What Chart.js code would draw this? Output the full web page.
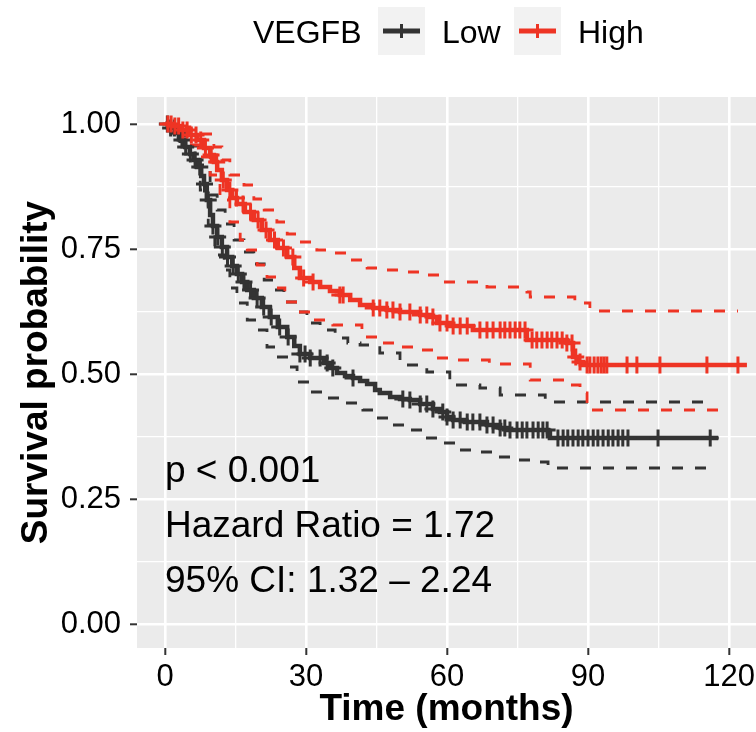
<!DOCTYPE html>
<html>
<head>
<meta charset="utf-8">
<script src="https://cdn.jsdelivr.net/npm/chart.js@4.4.1/dist/chart.umd.min.js"></script>
<style>
  html, body { margin: 0; padding: 0; background: #ffffff; overflow: hidden; }
  #km { display: block; }
</style>
</head>
<body>
<canvas id="km" width="756" height="732"></canvas>
<script>
// groups
const groupNames = ["Low", "High"];
const groupColors = ["#333333", "#EE3424"];

// Kaplan-Meier estimate, Low group (months, survival)
const lowTime = [0, 1.1, 2.1, 3.2, 4.3, 5.3, 6.2, 6.8, 7.7, 8.3, 8.9, 9.6, 10.2, 11.1, 12.1, 13.2, 14.3, 15.3, 16.4, 17.5, 18.9, 20.6, 22.3, 24.0, 26.0, 27.5, 28.7, 30.9, 33.8, 35.1, 36.6, 38.3, 40.0, 41.5, 43.0, 44.7, 45.7, 47.9, 50.0, 52.1, 54.3, 57.0, 58.5, 60.0, 61.3, 63.8, 68.5, 71.3, 72.8, 81.5, 81.9, 117.7];
const lowSurv = [1, 0.992, 0.982, 0.968, 0.954, 0.94, 0.928, 0.914, 0.896, 0.88, 0.848, 0.818, 0.796, 0.774, 0.754, 0.734, 0.716, 0.70, 0.684, 0.668, 0.652, 0.634, 0.614, 0.594, 0.574, 0.556, 0.54, 0.532, 0.522, 0.512, 0.502, 0.496, 0.492, 0.486, 0.48, 0.468, 0.462, 0.454, 0.45, 0.448, 0.44, 0.43, 0.424, 0.414, 0.408, 0.404, 0.398, 0.392, 0.388, 0.384, 0.372, 0.372];
const lowCensor = [0.5, 1.2, 2.0, 2.8, 3.6, 4.4, 5.4, 6.4, 7.4, 8.4, 9.2, 10.2, 11.2, 12.2, 13.3, 14.5, 15.6, 16.8, 18.2, 19.6, 21.0, 22.6, 24.4, 26.2, 28.7, 29.8, 30.9, 33.0, 34.5, 35.7, 40.0, 50.6, 52.1, 54.3, 55.7, 57.0, 59.1, 60.0, 61.3, 62.8, 64.3, 65.5, 67.0, 68.5, 69.8, 71.3, 72.3, 73.4, 74.9, 76.0, 77.0, 78.3, 79.4, 80.4, 81.3, 83.6, 84.7, 85.7, 86.8, 87.9, 88.9, 90.0, 91.1, 92.1, 93.2, 94.3, 95.3, 96.4, 97.4, 98.5, 104.9, 116.0];
const lowUpperTime = [0, 3.2, 5.3, 7.5, 9.6, 11.1, 12.8, 14.7, 16.8, 18.9, 21.1, 23.2, 25.3, 28.1, 30.2, 33.0, 36.2, 38.9, 41.5, 45.7, 50.0, 55.7, 60.6, 67.0, 71.3, 80.9, 116.0];
const lowUpper = [1, 0.976, 0.956, 0.918, 0.858, 0.828, 0.80, 0.768, 0.744, 0.72, 0.688, 0.668, 0.644, 0.624, 0.602, 0.588, 0.572, 0.562, 0.558, 0.542, 0.518, 0.504, 0.478, 0.472, 0.458, 0.444, 0.444];
const lowLowerTime = [0, 3.2, 5.3, 7.5, 9.2, 10.6, 12.6, 13.8, 15.3, 17.5, 19.6, 21.7, 23.8, 26.4, 28.1, 30.9, 34.5, 37.9, 42.1, 45.1, 47.9, 52.1, 54.9, 59.2, 62.1, 67.0, 70.6, 74.0, 77.7, 81.5, 116.0];
const lowLower = [1, 0.958, 0.924, 0.868, 0.798, 0.738, 0.708, 0.672, 0.642, 0.608, 0.588, 0.554, 0.534, 0.514, 0.484, 0.464, 0.452, 0.442, 0.428, 0.412, 0.398, 0.388, 0.372, 0.362, 0.348, 0.344, 0.334, 0.328, 0.324, 0.312, 0.312];

// Kaplan-Meier estimate, High group
const highTime = [0, 1.5, 3.2, 4.9, 6.8, 8.3, 9.6, 10.4, 11.1, 12.1, 13.2, 14.3, 15.3, 17.0, 18.9, 20.6, 22.3, 24.0, 26.0, 27.5, 28.7, 30.9, 33.0, 35.1, 37.2, 39.4, 41.5, 44.3, 47.2, 50.0, 54.3, 56.4, 57.9, 60.6, 65.5, 77.0, 85.5, 86.8, 87.9, 88.9, 123.8];
const highSurv = [1, 0.996, 0.988, 0.978, 0.968, 0.952, 0.938, 0.924, 0.908, 0.888, 0.868, 0.852, 0.84, 0.824, 0.808, 0.788, 0.768, 0.752, 0.734, 0.712, 0.692, 0.684, 0.674, 0.666, 0.658, 0.648, 0.638, 0.632, 0.628, 0.624, 0.618, 0.614, 0.602, 0.596, 0.588, 0.568, 0.562, 0.534, 0.524, 0.518, 0.518];
const highCensor = [0.6, 1.3, 2.1, 2.9, 3.8, 4.7, 5.6, 6.6, 7.6, 8.6, 9.8, 11.0, 12.4, 13.8, 15.2, 16.6, 18.2, 19.8, 21.5, 23.3, 25.2, 27.2, 29.5, 31.5, 37.2, 37.9, 44.3, 45.7, 47.2, 48.5, 50.0, 52.1, 54.3, 55.7, 57.0, 58.5, 60.0, 61.3, 62.8, 64.3, 67.0, 68.5, 69.8, 71.3, 72.3, 73.4, 74.5, 75.5, 76.6, 78.1, 79.1, 80.2, 81.3, 82.3, 83.4, 84.5, 85.5, 86.6, 87.4, 88.3, 89.8, 90.4, 91.3, 92.1, 92.8, 93.4, 94.0, 98.3, 100.4, 105.3, 115.3, 121.9];
const highUpperTime = [0, 3.2, 5.3, 7.9, 10.4, 12.1, 13.8, 16.8, 18.9, 21.1, 23.8, 26.0, 28.7, 32.3, 35.7, 39.4, 43.0, 47.2, 51.5, 55.7, 58.5, 68.5, 77.0, 77.7, 87.2, 90.4, 121.9];
const highUpper = [1, 0.994, 0.988, 0.98, 0.954, 0.928, 0.898, 0.878, 0.85, 0.828, 0.804, 0.78, 0.764, 0.748, 0.742, 0.728, 0.712, 0.708, 0.704, 0.698, 0.684, 0.674, 0.664, 0.654, 0.642, 0.626, 0.626];
const highLowerTime = [0, 3.2, 5.3, 7.5, 9.6, 11.7, 13.8, 16.0, 17.5, 19.6, 21.7, 23.8, 25.5, 28.5, 31.7, 35.7, 41.9, 45.7, 50.0, 54.3, 57.5, 62.0, 69.0, 77.7, 85.5, 88.3, 89.8, 120.2];
const highLower = [1, 0.98, 0.958, 0.934, 0.898, 0.848, 0.804, 0.768, 0.748, 0.718, 0.694, 0.672, 0.644, 0.624, 0.608, 0.598, 0.574, 0.562, 0.554, 0.548, 0.532, 0.528, 0.52, 0.488, 0.478, 0.462, 0.428, 0.428];

// axes
const xTicks = [0, 15, 30, 45, 60, 75, 90, 105, 120];
const xTickLabels = ["0", "", "30", "", "60", "", "90", "", "120"];
const yTicks = [0, 0.125, 0.25, 0.375, 0.5, 0.625, 0.75, 0.875, 1];
const yTickLabels = ["0.00", "", "0.25", "", "0.50", "", "0.75", "", "1.00"];

const annotationLines = ["p < 0.001", "Hazard Ratio = 1.72", "95% CI: 1.32 \u2013 2.24"];
const annotationY = [0.284, 0.174, 0.064];

const FONT = '"Liberation Sans", Arial, Helvetica, sans-serif';

function pts(xs, ys) {
  return xs.map((x, i) => ({ x: x, y: ys[i] }));
}
function survAt(times, surv, t) {
  let s = surv[0];
  for (let i = 0; i < times.length; i++) {
    if (times[i] <= t) s = surv[i];
  }
  return s;
}
function censorPts(censor, times, surv) {
  return censor.map(t => ({ x: t, y: survAt(times, surv, t) }));
}

function curve(data, color, order) {
  return { data: data, borderColor: color, borderWidth: 4.5, stepped: 'before',
    pointRadius: 0, fill: false, order: order };
}
function band(data, color) {
  return { data: data, borderColor: color, borderWidth: 2.8, borderDash: [11, 12], stepped: 'before',
    pointRadius: 0, fill: false, order: 5 };
}
function marks(data, color, order) {
  return { data: data, showLine: false, pointStyle: 'cross', pointRadius: 8.5, pointBorderWidth: 3,
    pointBorderColor: color, borderColor: color, backgroundColor: color, order: order };
}

const panelBg = {
  id: 'panelBg',
  beforeDraw(chart) {
    const a = chart.chartArea, c = chart.ctx;
    c.save();
    c.fillStyle = '#EBEBEB';
    c.fillRect(a.left, a.top, a.right - a.left, a.bottom - a.top);
    c.restore();
  }
};

const annotations = {
  id: 'annotations',
  afterDatasetsDraw(chart) {
    const c = chart.ctx, xs = chart.scales.x, ys = chart.scales.y;
    c.save();
    c.font = '37px ' + FONT;
    c.fillStyle = '#000000';
    c.textAlign = 'left';
    c.textBaseline = 'alphabetic';
    annotationLines.forEach((t, i) => c.fillText(t, xs.getPixelForValue(0), ys.getPixelForValue(annotationY[i])));
    c.restore();
  }
};

const topLegend = {
  id: 'topLegend',
  afterDraw(chart) {
    const c = chart.ctx;
    c.save();
    c.font = '32px ' + FONT;
    c.fillStyle = '#000000';
    c.textBaseline = 'alphabetic';
    c.fillText('VEGFB', 253, 43);
    const boxX = [378, 514];
    const textX = [442, 578];
    groupNames.forEach((g, i) => {
      const bx = boxX[i];
      c.fillStyle = '#F2F2F2';
      c.fillRect(bx, 7, 47, 48);
      c.strokeStyle = groupColors[i];
      c.lineWidth = 5;
      c.beginPath();
      c.moveTo(bx + 5, 31); c.lineTo(bx + 42, 31);
      c.stroke();
      c.lineWidth = 3;
      c.beginPath();
      c.moveTo(bx + 23.5, 24); c.lineTo(bx + 23.5, 38);
      c.stroke();
      c.fillStyle = '#000000';
      c.fillText(g, textX[i], 43);
    });
    c.restore();
  }
};

const isMajor = (arr, labels, v) => labels[arr.indexOf(v)] !== '';

new Chart(document.getElementById('km'), {
  type: 'line',
  data: {
    datasets: [
      marks(censorPts(highCensor, highTime, highSurv), groupColors[1], 0),
      curve(pts(highTime, highSurv), groupColors[1], 1),
      marks(censorPts(lowCensor, lowTime, lowSurv), groupColors[0], 2),
      curve(pts(lowTime, lowSurv), groupColors[0], 3),
      band(pts(highUpperTime, highUpper), groupColors[1]),
      band(pts(highLowerTime, highLower), groupColors[1]),
      band(pts(lowUpperTime, lowUpper), groupColors[0]),
      band(pts(lowLowerTime, lowLower), groupColors[0])
    ]
  },
  options: {
    responsive: false,
    animation: false,
    layout: { autoPadding: false, padding: { top: 97, left: 0, right: 0, bottom: 0 } },
    plugins: { legend: { display: false }, tooltip: { enabled: false } },
    scales: {
      x: {
        type: 'linear',
        min: -5.957,
        max: 125.74,
        afterBuildTicks: s => { s.ticks = xTicks.map(v => ({ value: v })); },
        afterFit: s => { s.height = 84; s.paddingLeft = 0; s.paddingRight = 0; },
        border: { display: false },
        grid: {
          color: '#FFFFFF',
          lineWidth: ctx => ctx.tick && isMajor(xTicks, xTickLabels, ctx.tick.value) ? 2.6 : 1.3,
          tickColor: ctx => ctx.tick && isMajor(xTicks, xTickLabels, ctx.tick.value) ? '#333333' : 'rgba(0,0,0,0)',
          tickLength: 7,
          tickWidth: 2
        },
        ticks: {
          autoSkip: false,
          maxRotation: 0,
          padding: 4,
          color: '#000000',
          font: { family: FONT, size: 31 },
          callback: v => xTickLabels[xTicks.indexOf(v)]
        },
        title: {
          display: true,
          text: 'Time (months)',
          color: '#000000',
          font: { family: FONT, size: 37, weight: 'bold' },
          padding: { top: 0, bottom: 0 }
        }
      },
      y: {
        min: -0.048,
        max: 1.054,
        afterBuildTicks: s => { s.ticks = yTicks.map(v => ({ value: v })); },
        afterFit: s => { s.width = 137; s.paddingTop = 0; s.paddingBottom = 0; },
        border: { display: false },
        grid: {
          color: '#FFFFFF',
          lineWidth: ctx => ctx.tick && isMajor(yTicks, yTickLabels, ctx.tick.value) ? 2.6 : 1.3,
          tickColor: ctx => ctx.tick && isMajor(yTicks, yTickLabels, ctx.tick.value) ? '#333333' : 'rgba(0,0,0,0)',
          tickLength: 7,
          tickWidth: 2
        },
        ticks: {
          autoSkip: false,
          padding: 9,
          color: '#000000',
          font: { family: FONT, size: 31 },
          callback: v => yTickLabels[yTicks.indexOf(v)]
        },
        title: {
          display: true,
          text: 'Survival probability',
          color: '#000000',
          font: { family: FONT, size: 37, weight: 'bold' },
          padding: { top: 15, bottom: 0 }
        }
      }
    }
  },
  plugins: [panelBg, annotations, topLegend]
});
</script>
</body>
</html>
